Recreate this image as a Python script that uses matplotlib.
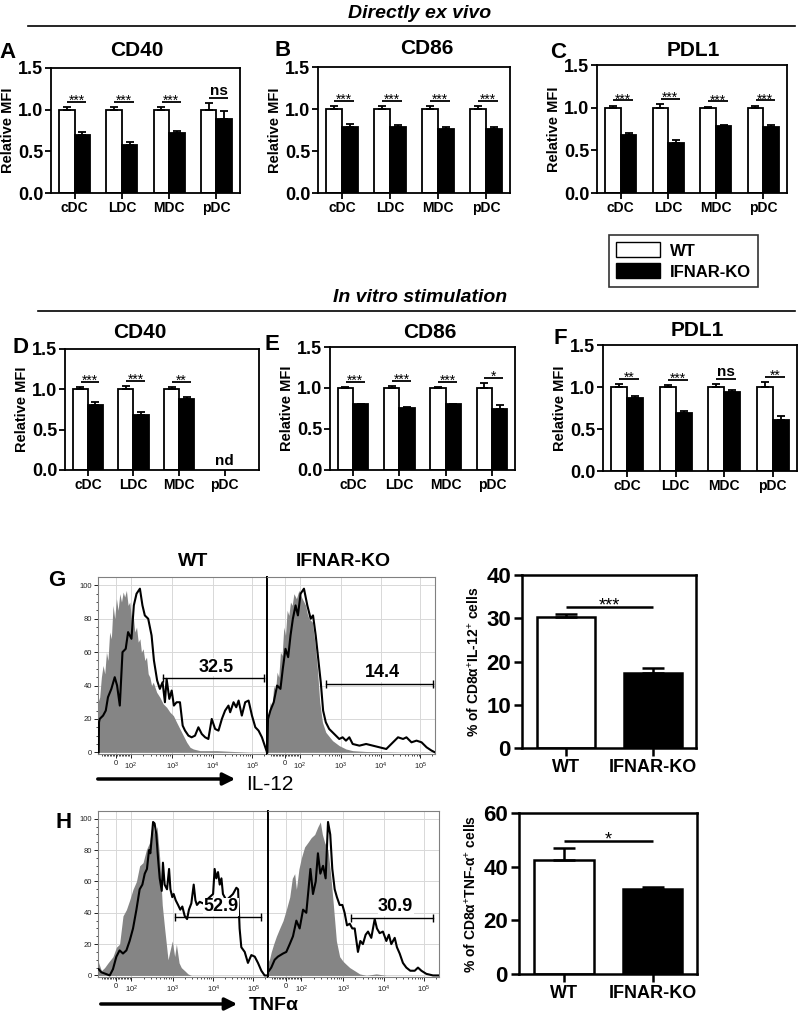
"""
IFNAR-KO vs WT dendritic cell activation markers, IL-12 / TNFa staining
"""

import numpy as np
import matplotlib.pyplot as plt
from matplotlib.patches import Patch, FancyArrowPatch

plt.rcParams['font.family'] = ['Liberation Sans', 'DejaVu Sans']
plt.rcParams['mathtext.fontset'] = 'custom'
plt.rcParams['mathtext.rm'] = 'Liberation Sans'
plt.rcParams['mathtext.it'] = 'Liberation Sans:italic'
plt.rcParams['mathtext.bf'] = 'Liberation Sans:bold'

FIG_W, FIG_H = 800, 1014

cell_types = ['cDC', 'LDC', 'MDC', 'pDC']
groups = ['WT', 'IFNAR-KO']

# ---- relative MFI (mean, SEM) ----
exv_cd40_wt = [1.0, 1.0, 1.0, 1.0]
exv_cd40_wt_err = [0.03, 0.03, 0.03, 0.08]
exv_cd40_ko = [0.70, 0.58, 0.72, 0.89]
exv_cd40_ko_err = [0.03, 0.03, 0.03, 0.09]
exv_cd40_sig = ['***', '***', '***', 'ns']

exv_cd86_wt = [1.0, 1.0, 1.0, 1.0]
exv_cd86_wt_err = [0.03, 0.03, 0.03, 0.03]
exv_cd86_ko = [0.79, 0.79, 0.76, 0.76]
exv_cd86_ko_err = [0.03, 0.02, 0.03, 0.03]
exv_cd86_sig = ['***', '***', '***', '***']

exv_pdl1_wt = [1.0, 1.0, 1.0, 1.0]
exv_pdl1_wt_err = [0.02, 0.04, 0.01, 0.02]
exv_pdl1_ko = [0.68, 0.59, 0.79, 0.77]
exv_pdl1_ko_err = [0.02, 0.03, 0.01, 0.03]
exv_pdl1_sig = ['***', '***', '***', '***']

vit_cd40_wt = [1.0, 1.0, 1.0, np.nan]
vit_cd40_wt_err = [0.03, 0.04, 0.03, np.nan]
vit_cd40_ko = [0.81, 0.68, 0.88, np.nan]
vit_cd40_ko_err = [0.03, 0.04, 0.03, np.nan]
vit_cd40_sig = ['***', '***', '**', 'nd']

vit_cd86_wt = [1.0, 1.0, 1.0, 1.0]
vit_cd86_wt_err = [0.01, 0.02, 0.01, 0.06]
vit_cd86_ko = [0.80, 0.75, 0.80, 0.74]
vit_cd86_ko_err = [0.01, 0.02, 0.01, 0.05]
vit_cd86_sig = ['***', '***', '***', '*']

vit_pdl1_wt = [1.0, 1.0, 1.0, 1.0]
vit_pdl1_wt_err = [0.03, 0.02, 0.03, 0.06]
vit_pdl1_ko = [0.87, 0.69, 0.94, 0.61]
vit_pdl1_ko_err = [0.02, 0.02, 0.02, 0.05]
vit_pdl1_sig = ['**', '***', 'ns', '**']

# ---- % positive cells ----
il12_pct = [30.2, 17.3]
il12_pct_err = [0.7, 1.1]
tnf_pct = [42.6, 31.7]
tnf_pct_err = [4.4, 0.6]

# ---- flow histograms (display channel 0-1000, % of max) ----
hist_tick_labels = ['0', r'$10^2$', r'$10^3$', r'$10^4$', r'$10^5$']
hist_tick_pos = [106, 195, 440, 678, 913]

g_wt_ctrl_ch = [0, 10, 20, 30, 40, 50, 59, 69, 79, 89, 99, 109, 119, 129, 139, 149, 158, 168,
                178, 188, 198, 208, 218, 228, 238, 248, 257, 267, 277, 287, 297, 307, 317, 327,
                347, 366, 386, 406, 426, 446, 465, 485, 505, 525, 545, 564, 604, 703, 802, 901, 1000]
g_wt_ctrl_val = [30, 33, 45, 52, 47, 60, 55, 72, 68, 88, 80, 92, 85, 95, 90, 96, 93, 97,
                 88, 90, 80, 82, 72, 75, 66, 68, 60, 62, 55, 57, 47, 45, 40, 42,
                 36, 33, 29, 27, 24, 22, 18, 14, 10, 6, 3, 2, 1, 1, 0.5, 0, 0]
g_wt_stain_ch = [4, 6, 10, 30, 46, 59, 79, 99, 113, 129, 145, 164, 178, 198, 212, 228, 248, 263,
                 277, 297, 317, 331, 350, 366, 382, 396, 406, 422, 436, 449, 465, 485, 501, 515,
                 535, 554, 574, 594, 614, 634, 653, 673, 693, 713, 733, 752, 772, 782, 802, 818,
                 832, 851, 871, 891, 911, 931, 950, 970, 990, 1000]
g_wt_stain_val = [0, 18, 20, 22, 25, 33, 38, 45, 40, 28, 60, 62, 72, 68, 88, 95, 98, 88,
                  82, 80, 70, 55, 43, 38, 42, 30, 44, 32, 37, 28, 30, 30, 16, 13,
                  10, 9, 10, 15, 11, 9, 8, 20, 14, 13, 20, 25, 28, 24, 30, 27,
                  31, 22, 30, 31, 22, 15, 13, 9, 3, 0]

g_ko_ctrl_ch = [0, 6, 20, 30, 40, 50, 60, 70, 80, 90, 100, 110, 120, 130, 140, 150, 160, 175,
                190, 200, 210, 220, 230, 240, 250, 260, 270, 286, 300, 314, 330, 350, 390, 430,
                470, 510, 590, 790, 1000]
g_ko_ctrl_val = [18, 20, 30, 27, 40, 36, 48, 45, 60, 58, 75, 70, 85, 82, 90, 88, 95, 92,
                 97, 94, 92, 90, 88, 83, 80, 79, 78, 65, 50, 30, 18, 12, 7, 4,
                 2, 1, 0.5, 0, 0]
g_ko_stain_ch = [2, 6, 20, 40, 60, 80, 94, 110, 126, 140, 154, 170, 184, 200, 220, 240, 260, 274,
                 290, 306, 320, 334, 350, 370, 390, 410, 430, 450, 470, 490, 510, 550, 590, 630,
                 670, 710, 740, 780, 810, 830, 860, 890, 920, 950, 980, 1000]
g_ko_stain_val = [0, 20, 25, 30, 40, 38, 50, 62, 57, 70, 80, 88, 82, 95, 98, 88, 80, 82,
                  70, 55, 42, 25, 18, 14, 12, 10, 8, 9, 7, 9, 5, 4, 5, 4,
                  3, 2, 5, 9, 8, 9, 6, 7, 6, 3, 1, 0]

h_wt_ctrl_ch = [0, 4, 20, 39, 59, 88, 108, 127, 147, 167, 186, 206, 226, 245, 265, 284, 304, 320,
                333, 347, 363, 378, 392, 402, 412, 422, 437, 451, 461, 477, 490, 510, 529, 549, 1000]
h_wt_ctrl_val = [10, 8, 3, 5, 8, 12, 18, 20, 38, 42, 48, 55, 60, 70, 72, 80, 85, 98,
                 90, 95, 75, 45, 30, 20, 10, 15, 22, 12, 20, 8, 5, 3, 1, 0, 0]
h_wt_stain_ch = [4, 20, 45, 69, 88, 108, 127, 147, 167, 186, 206, 226, 245, 261, 275, 288, 300, 308,
                 324, 333, 343, 353, 363, 375, 382, 392, 406, 418, 426, 437, 445, 457, 471, 484,
                 496, 510, 524, 535, 549, 563, 573, 582, 598, 618, 637, 657, 677, 686, 696, 706,
                 716, 726, 735, 755, 775, 794, 814, 824, 833, 843, 863, 882, 902, 922, 941, 961,
                 980, 1000]
h_wt_stain_val = [4, 2, 1, 0, 4, 12, 16, 14, 16, 22, 30, 42, 55, 58, 65, 68, 80, 78,
                  98, 97, 90, 75, 62, 54, 72, 58, 55, 68, 55, 50, 52, 48, 45, 42,
                  44, 38, 36, 42, 46, 58, 48, 45, 47, 46, 48, 50, 52, 68, 62, 66,
                  58, 62, 52, 48, 50, 52, 56, 55, 30, 18, 15, 8, 13, 12, 8, 3,
                  0, 0]

h_ko_ctrl_ch = [0, 6, 19, 33, 49, 68, 88, 107, 127, 142, 156, 166, 181, 195, 214, 234, 253, 273,
                292, 306, 318, 331, 351, 366, 380, 390, 400, 419, 439, 458, 478, 507, 536, 575,
                633, 692, 1000]
h_ko_ctrl_val = [12, 9, 15, 20, 25, 30, 35, 42, 50, 62, 65, 55, 68, 75, 82, 85, 88, 90,
                 95, 98, 90, 85, 80, 65, 48, 35, 22, 12, 9, 7, 5, 3, 1, 0,
                 1, 0, 0]
h_ko_stain_ch = [6, 19, 39, 58, 88, 107, 127, 146, 166, 185, 205, 224, 248, 263, 279, 292, 306, 322,
                 337, 351, 364, 376, 390, 403, 419, 435, 448, 462, 478, 493, 507, 526, 540, 555,
                 571, 585, 604, 624, 637, 653, 672, 692, 707, 721, 741, 754, 770, 789, 809, 832,
                 858, 877, 897, 926, 965, 1000]
h_ko_stain_val = [3, 5, 10, 12, 14, 15, 20, 25, 35, 30, 42, 40, 68, 52, 60, 78, 65, 70,
                  62, 98, 90, 68, 55, 50, 45, 45, 40, 32, 33, 30, 30, 15, 22, 20,
                  26, 28, 24, 36, 30, 27, 28, 22, 26, 20, 24, 18, 14, 8, 5, 3,
                  3, 5, 3, 1, 0, 0]

# gates: (start channel, end channel, height, label)
g_wt_gate = (382, 980, 44.5, '32.5')
g_ko_gate = (350, 986, 41.0, '14.4')
h_wt_gate = (451, 961, 37.0, '52.9')
h_ko_gate = (487, 965, 36.8, '30.9')


def rect(x0, y0, x1, y1):
    return [x0 / FIG_W, 1 - y1 / FIG_H, (x1 - x0) / FIG_W, (y1 - y0) / FIG_H]


def fx(x):
    return x / FIG_W


def fy(y):
    return 1 - y / FIG_H


def mfi_panel(fig, box, wt, wt_err, ko, ko_err, sig, xmax=3.5):
    ax = fig.add_axes(rect(*box))
    x = np.arange(len(cell_types))
    bw = 0.33
    wt, wt_err = np.asarray(wt, float), np.asarray(wt_err, float)
    ko, ko_err = np.asarray(ko, float), np.asarray(ko_err, float)
    ok = ~np.isnan(wt)
    ax.bar(x[ok] - bw / 2, wt[ok], bw, color='white', edgecolor='black', lw=1.3, zorder=2)
    ax.bar(x[ok] + bw / 2, ko[ok], bw, color='black', edgecolor='black', lw=1.3, zorder=2)
    for xs, v, e in ((x[ok] - bw / 2, wt[ok], wt_err[ok]), (x[ok] + bw / 2, ko[ok], ko_err[ok])):
        ax.errorbar(xs, v, yerr=[np.zeros_like(e), e], fmt='none', ecolor='black',
                    elinewidth=1.3, capsize=3, capthick=1.3, zorder=3)
    for i, s in enumerate(sig):
        if s == 'nd':
            ax.text(x[i], 0.02, 'nd', ha='center', va='bottom', fontsize=11, fontweight='bold')
            continue
        top = max(wt[i] + wt_err[i], ko[i] + ko_err[i])
        yl = top + 0.065
        x0, x1 = x[i] - 0.16, x[i] + 0.25
        ax.plot([x0, x1], [yl, yl], color='black', lw=1.3, solid_capstyle='butt')
        if s == 'ns':
            ax.annotate('ns', ((x0 + x1) / 2, yl), xytext=(0, 0), textcoords='offset points',
                        ha='center', va='bottom', fontsize=11, fontweight='bold')
        else:
            ax.annotate(s, ((x0 + x1) / 2, yl), xytext=(0, -4.5), textcoords='offset points',
                        ha='center', va='bottom', fontsize=10)
    ax.set_xlim(-0.5, xmax)
    ax.set_ylim(0, 1.5)
    ax.set_yticks([0, 0.5, 1.0, 1.5])
    ax.set_yticklabels(['0.0', '0.5', '1.0', '1.5'], fontsize=13, fontweight='bold')
    ax.set_xticks(x)
    ax.set_xticklabels(cell_types, fontsize=10, fontweight='bold')
    ax.tick_params(direction='out', length=4, width=1.3, pad=1.5)
    ax.set_ylabel('Relative MFI', fontsize=10.5, fontweight='bold', labelpad=2)
    for sp in ax.spines.values():
        sp.set_linewidth(1.3)
    return ax


def hist_panel(ax, ctrl_ch, ctrl_val, st_ch, st_val, gate, show_y):
    ax.fill_between(ctrl_ch, ctrl_val, 0, color='#858585', lw=0, zorder=1)
    ax.plot(st_ch, st_val, color='black', lw=1.5, zorder=3)
    lo, hi, gy, label = gate
    ax.plot([lo, hi], [gy, gy], color='black', lw=1.0, zorder=4)
    ax.plot([lo, hi], [gy, gy], ls='none', marker='|', ms=6, mew=1.0, color='black', zorder=4)
    ax.text((lo + hi) / 2 + 20, gy + 1.5, label, ha='center', va='bottom', fontsize=13,
            fontweight='bold', zorder=5,
            bbox=dict(facecolor='white', edgecolor='none', pad=0.2))
    ax.set_xlim(0, 1000)
    ax.set_ylim(-1, 105)
    ax.set_xticks(hist_tick_pos)
    ax.set_xticklabels(hist_tick_labels, fontsize=5.5)
    # minor log ticks between decades, linear ticks around zero
    minor = []
    for k in range(3):
        p0, p1 = hist_tick_pos[k + 1], hist_tick_pos[k + 2]
        for m in range(2, 10):
            minor.append(p0 + np.log10(m) * (p1 - p0))
    for m in range(2, 4):
        minor.append(hist_tick_pos[4] + np.log10(m) * (hist_tick_pos[4] - hist_tick_pos[3]))
    for v in range(10, 100, 10):
        minor.append(hist_tick_pos[0] + v / 100 * (hist_tick_pos[1] - hist_tick_pos[0]))
        minor.append(hist_tick_pos[0] - v / 100 * (hist_tick_pos[1] - hist_tick_pos[0]))
    ax.set_xticks([m for m in minor if 0 < m < 1000], minor=True)
    ax.set_yticks(range(0, 101, 20))
    ax.set_yticks(range(0, 101, 5), minor=True)
    ax.grid(True, which='major', color='#d8d8d8', lw=0.7)
    ax.set_axisbelow(True)
    ax.tick_params(which='major', length=3, width=0.7, pad=1.5, labelsize=5.5, colors='#222222')
    ax.tick_params(which='minor', length=1.5, width=0.5)
    if not show_y:
        ax.tick_params(axis='y', which='both', length=0, labelleft=False)
    for sp in ax.spines.values():
        sp.set_color('#808080')
        sp.set_linewidth(0.8)


def pct_panel(ax, vals, errs, sig, ymax, ystep, ylabel):
    x = np.arange(len(groups))
    ax.bar(x, vals, 0.67, color=['white', 'black'], edgecolor='black', lw=1.8, zorder=2)
    ax.errorbar(x, vals, yerr=[np.zeros(len(errs)), errs], fmt='none', ecolor='black',
                elinewidth=1.8, capsize=8, capthick=1.8, zorder=3)
    yl = max(v + e for v, e in zip(vals, errs)) + ymax * 0.04
    ax.plot([0, 1], [yl, yl], color='black', lw=1.8, solid_capstyle='butt')
    ax.annotate(sig, (0.5, yl), xytext=(0, -5), textcoords='offset points',
                ha='center', va='bottom', fontsize=13)
    ax.set_xlim(-0.51, 1.5)
    ax.set_ylim(0, ymax)
    ax.set_yticks(np.arange(0, ymax + 1, ystep))
    ax.set_yticklabels([str(int(v)) for v in np.arange(0, ymax + 1, ystep)],
                       fontsize=16, fontweight='bold')
    ax.set_xticks(x)
    ax.set_xticklabels(groups, fontsize=13, fontweight='bold')
    ax.tick_params(direction='out', length=6, width=1.8, pad=2)
    ax.set_ylabel(ylabel, fontsize=10, fontweight='bold', labelpad=3)
    for sp in ax.spines.values():
        sp.set_linewidth(1.8)


fig = plt.figure(figsize=(FIG_W / 100, FIG_H / 100), dpi=100)

# section headers
fig.text(fx(420), fy(13), 'Directly ex vivo', ha='center', va='center', fontsize=14,
         fontweight='bold', fontstyle='italic')
fig.add_artist(plt.Line2D([fx(28), fx(795)], [fy(26), fy(26)], color='black', lw=1.2))
fig.text(fx(420), fy(297), 'In vitro stimulation', ha='center', va='center', fontsize=14,
         fontweight='bold', fontstyle='italic')
fig.add_artist(plt.Line2D([fx(38), fx(795)], [fy(311), fy(311)], color='black', lw=1.2))

panels = [
    ((51, 68, 240, 193), 3.5, 'A', (8, 53), 'CD40', (137, 50),
     exv_cd40_wt, exv_cd40_wt_err, exv_cd40_ko, exv_cd40_ko_err, exv_cd40_sig),
    ((318, 67, 510, 193), 3.5, 'B', (283, 50), 'CD86', (427, 48),
     exv_cd86_wt, exv_cd86_wt_err, exv_cd86_ko, exv_cd86_ko_err, exv_cd86_sig),
    ((597, 65, 787, 193), 3.5, 'C', (558, 52), 'PDL1', (693, 50),
     exv_pdl1_wt, exv_pdl1_wt_err, exv_pdl1_ko, exv_pdl1_ko_err, exv_pdl1_sig),
    ((65, 349, 259, 470), 3.75, 'D', (20, 347), 'CD40', (140, 333),
     vit_cd40_wt, vit_cd40_wt_err, vit_cd40_ko, vit_cd40_ko_err, vit_cd40_sig),
    ((330, 347, 515, 470), 3.5, 'E', (272, 344), 'CD86', (430, 333),
     vit_cd86_wt, vit_cd86_wt_err, vit_cd86_ko, vit_cd86_ko_err, vit_cd86_sig),
    ((603, 345, 797, 471), 3.5, 'F', (560, 339), 'PDL1', (697, 330),
     vit_pdl1_wt, vit_pdl1_wt_err, vit_pdl1_ko, vit_pdl1_ko_err, vit_pdl1_sig),
]
for box, xmax, letter, lpos, title, tpos, wt, wte, ko, koe, sig in panels:
    mfi_panel(fig, box, wt, wte, ko, koe, sig, xmax)
    fig.text(fx(lpos[0]), fy(lpos[1]), letter, ha='center', va='center', fontsize=16,
             fontweight='bold')
    fig.text(fx(tpos[0]), fy(tpos[1]), title, ha='center', va='center', fontsize=15,
             fontweight='bold')

leg = fig.legend(handles=[Patch(facecolor='white', edgecolor='black', lw=1.0),
                          Patch(facecolor='black', edgecolor='black', lw=1.0)],
                 labels=groups, loc='center', bbox_to_anchor=(fx(683.5), fy(261)),
                 frameon=True, fancybox=False, edgecolor='black',
                 prop={'weight': 'bold', 'size': 12}, handlelength=2.6, handleheight=1.0,
                 borderpad=0.45, labelspacing=0.3, handletextpad=0.6)
leg.get_frame().set_linewidth(1.2)

# G: IL-12 histograms + bars
ax_gw = fig.add_axes(rect(98, 577, 267, 754))
ax_gk = fig.add_axes(rect(267, 577, 435, 754))
hist_panel(ax_gw, g_wt_ctrl_ch, g_wt_ctrl_val, g_wt_stain_ch, g_wt_stain_val, g_wt_gate, True)
hist_panel(ax_gk, g_ko_ctrl_ch, g_ko_ctrl_val, g_ko_stain_ch, g_ko_stain_val, g_ko_gate, False)
ax_gw.spines['right'].set_color('black')
ax_gw.spines['right'].set_linewidth(1.4)
ax_gk.spines['left'].set_color('black')
ax_gk.spines['left'].set_linewidth(1.4)
fig.text(fx(193), fy(562), 'WT', ha='center', va='center', fontsize=14, fontweight='bold')
fig.text(fx(343), fy(562), 'IFNAR-KO', ha='center', va='center', fontsize=14, fontweight='bold')
fig.text(fx(57), fy(581), 'G', ha='center', va='center', fontsize=16, fontweight='bold')
fig.add_artist(FancyArrowPatch((fx(95), fy(779)), (fx(238), fy(779)), transform=fig.transFigure,
                               arrowstyle='-|>', mutation_scale=18, lw=2.5, color='black'))
fig.text(fx(246), fy(784), 'IL-12', ha='left', va='center', fontsize=15)

ax_gb = fig.add_axes(rect(522, 575, 696, 748))
pct_panel(ax_gb, il12_pct, il12_pct_err, '***', 40, 10,
          r'% of CD8α$^{+}$IL-12$^{+}$ cells')

# H: TNFa histograms + bars
ax_hw = fig.add_axes(rect(98, 811, 268, 977))
ax_hk = fig.add_axes(rect(268, 811, 439, 977))
hist_panel(ax_hw, h_wt_ctrl_ch, h_wt_ctrl_val, h_wt_stain_ch, h_wt_stain_val, h_wt_gate, True)
hist_panel(ax_hk, h_ko_ctrl_ch, h_ko_ctrl_val, h_ko_stain_ch, h_ko_stain_val, h_ko_gate, False)
ax_hw.spines['right'].set_color('black')
ax_hw.spines['right'].set_linewidth(1.4)
ax_hk.spines['left'].set_color('black')
ax_hk.spines['left'].set_linewidth(1.4)
fig.text(fx(64), fy(823), 'H', ha='center', va='center', fontsize=16, fontweight='bold')
fig.add_artist(FancyArrowPatch((fx(98), fy(1004)), (fx(240), fy(1004)), transform=fig.transFigure,
                               arrowstyle='-|>', mutation_scale=18, lw=2.5, color='black'))
fig.text(fx(249), fy(1010), 'TNFα', ha='left', va='baseline', fontsize=14, fontweight='bold')

ax_hb = fig.add_axes(rect(519, 813, 697, 974))
pct_panel(ax_hb, tnf_pct, tnf_pct_err, '*', 60, 20,
          r'% of CD8α$^{+}$TNF-α$^{+}$ cells')

fig.savefig('out.png', dpi=100)
